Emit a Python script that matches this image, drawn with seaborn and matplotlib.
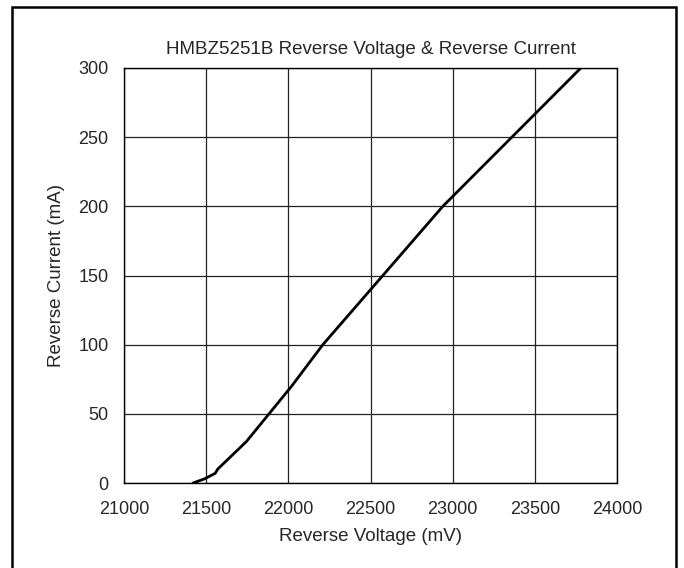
import seaborn as sns
import matplotlib.pyplot as plt
from matplotlib.patches import Rectangle

# Values
voltage_mv = [21420, 21490, 21555, 21570, 21745, 22020, 22210, 22940, 23780]
current_ma = [0, 3, 7, 10, 30, 70, 100, 200, 300]

x_ticks = [21000, 21500, 22000, 22500, 23000, 23500, 24000]
y_ticks = [0, 50, 100, 150, 200, 250, 300]

sns.set_style("white")
plt.rcParams['font.family'] = ['Liberation Sans', 'DejaVu Sans']

fig = plt.figure(figsize=(6.84, 5.68), dpi=100)
ax = fig.add_axes([124 / 684, 85 / 568, 493 / 684, 415 / 568])

sns.lineplot(x=voltage_mv, y=current_ma, color="black", linewidth=2.0, ax=ax)

ax.set_xlim(21000, 24000)
ax.set_ylim(0, 300)
ax.set_xticks(x_ticks)
ax.set_yticks(y_ticks)
ax.tick_params(axis="x", length=0, pad=13, labelsize=13)
ax.tick_params(axis="y", length=0, pad=11, labelsize=13)
ax.grid(True, color="#222222", linewidth=0.9)
for s in ax.spines.values():
    s.set_color("black")
    s.set_linewidth(1.0)

ax.set_title("HMBZ5251B Reverse Voltage & Reverse Current", fontsize=13.5, pad=10)
ax.set_xlabel("Reverse Voltage (mV)", fontsize=13.5)
ax.set_ylabel("Reverse Current (mA)", fontsize=13.5)
ax.xaxis.set_label_coords(0.5, -0.108)
ax.yaxis.set_label_coords(-0.12, 0.5)

# outer frame, open at the bottom edge of the image
fig.patches.append(Rectangle((12 / 684, -0.05), 664 / 684, 1.05 - 7 / 568,
                             transform=fig.transFigure, fill=False,
                             edgecolor="black", linewidth=1.8, clip_on=False))

fig.savefig("out.png", dpi=100)
